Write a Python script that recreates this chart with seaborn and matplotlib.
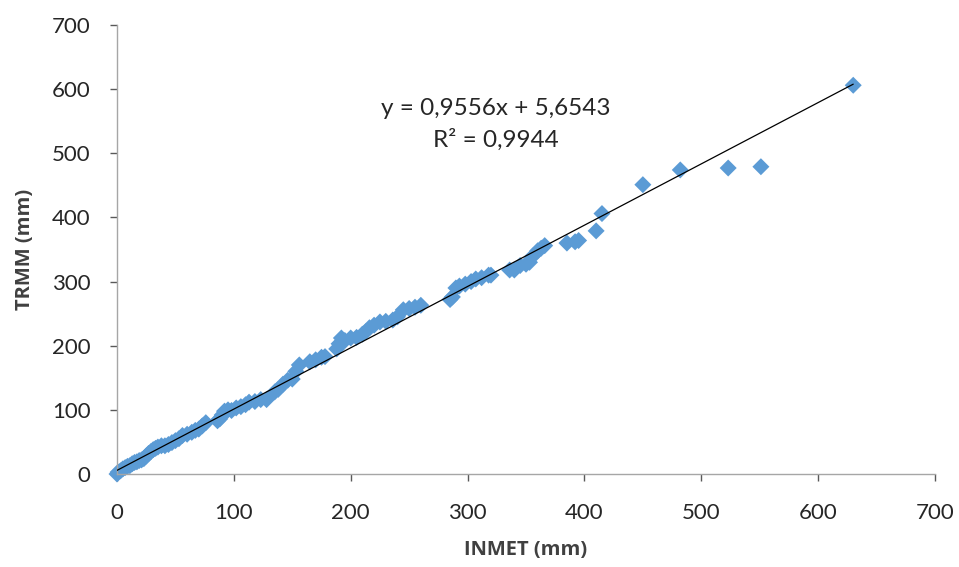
import matplotlib
matplotlib.use("Agg")
import matplotlib.pyplot as plt
import numpy as np
import pandas as pd
import seaborn as sns

# monthly rainfall, INMET gauge vs TRMM estimate (mm)
inmet = [0, 1, 3, 5, 7, 9, 11, 13, 15, 17, 19, 21, 23, 25, 27, 29, 31, 33, 35, 38,
         41, 44, 47, 50, 53, 56, 60, 64, 67, 70, 73, 76, 86, 88, 90, 92, 95, 98, 102, 106,
         110, 113, 118, 123, 128, 135, 138, 142, 146, 150, 153, 156, 165, 170, 175, 178,
         188, 190, 192, 195, 200, 205, 210, 213, 216, 220, 225, 230, 236, 240, 245, 250,
         255, 260, 285, 287, 290, 293, 298, 303, 307, 312, 318, 320, 336, 340, 345, 350,
         353, 356, 360, 363, 366, 385, 392, 395, 410, 415, 450, 482, 523, 551, 630]
trmm = [0, 3, 5, 8, 10, 12, 13, 16, 18, 19, 21, 22, 24, 28, 32, 35, 38, 40, 42, 44,
        44, 46, 49, 52, 55, 60, 62, 65, 68, 70, 75, 80, 83, 86, 92, 98, 100, 99, 103, 105,
        108, 112, 113, 116, 116, 128, 132, 140, 146, 148, 160, 170, 175, 178, 182, 183,
        195, 203, 212, 208, 212, 213, 218, 222, 228, 232, 237, 238, 240, 245, 256, 258,
        260, 263, 272, 276, 290, 293, 296, 300, 304, 306, 310, 310, 318, 318, 325, 327,
        330, 340, 348, 352, 356, 360, 362, 364, 379, 406, 451, 474, 477, 479, 606]

slope = 0.9556
intercept = 5.6543
r2 = 0.9944

df = pd.DataFrame({"INMET": inmet, "TRMM": trmm})

sns.set_style("white")
plt.rcParams["font.family"] = ["Lato", "DejaVu Sans"]

fig = plt.figure(figsize=(9.59, 5.67), dpi=100)
ax = fig.add_axes([0.122, 0.164, 0.853, 0.792])

xs = np.array([min(inmet), max(inmet)])
trend = pd.DataFrame({"x": xs, "y": slope * xs + intercept})

sns.scatterplot(data=df, x="INMET", y="TRMM", marker="D", s=75, color="#5B9BD5",
                edgecolor="none", ax=ax, zorder=2, clip_on=False)
sns.lineplot(data=trend, x="x", y="y", color="black", linewidth=0.9, ax=ax, zorder=3)

ax.set_xlim(0, 700)
ax.set_ylim(0, 700)
ax.set_xticks(range(0, 701, 100))
ax.set_yticks(range(0, 701, 100))
ax.tick_params(axis="both", labelsize=16, colors="#595959", length=5, width=1,
               direction="out", bottom=True, left=True)
ax.tick_params(axis="x", pad=16)
ax.tick_params(axis="y", pad=14)
for lab in ax.get_xticklabels() + ax.get_yticklabels():
    lab.set_color("#262626")

for side in ("top", "right"):
    ax.spines[side].set_visible(False)
for side in ("left", "bottom"):
    ax.spines[side].set_color("#A6A6A6")
    ax.spines[side].set_linewidth(1)

label_font = dict(fontsize=14.5, fontweight="bold", color="#404040",
                  family=["Open Sans", "DejaVu Sans"])
ax.set_xlabel("INMET (mm)", labelpad=12, **label_font)
ax.set_ylabel("TRMM (mm)", labelpad=12, **label_font)

ax.text(324, 570, f"y = {slope:.4f}x + {intercept:.4f}".replace(".", ","),
        ha="center", va="center", fontsize=17.5, color="#262626")
ax.text(324, 521, f"R² = {r2:.4f}".replace(".", ","),
        ha="center", va="center", fontsize=17.5, color="#262626")

fig.savefig("out.png", dpi=100)
